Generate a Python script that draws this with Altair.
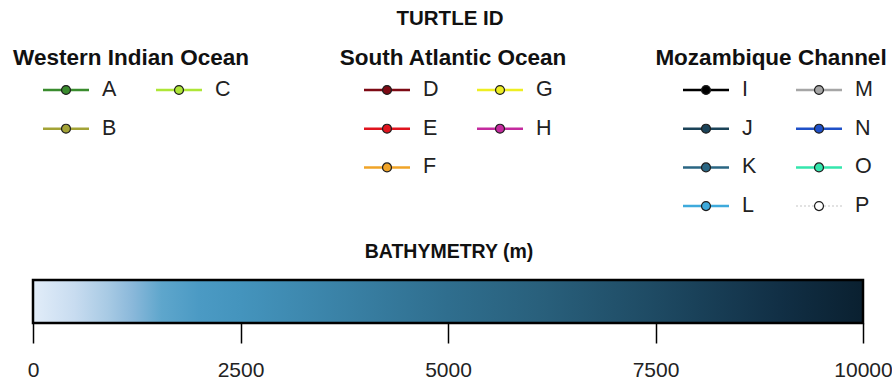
import altair as alt
import pandas as pd

# ---- legend content -------------------------------------------------------
groups = ["Western Indian Ocean", "South Atlantic Ocean", "Mozambique Channel"]
group_ids = [
    ["A", "B", "C"],
    ["D", "E", "F", "G", "H"],
    ["I", "J", "K", "L", "M", "N", "O", "P"],
]
id_colors = {
    "A": "#3a8c2e", "B": "#a3a336", "C": "#aee637",
    "D": "#7d0a14", "E": "#e0141e", "F": "#f0a428", "G": "#eeee22", "H": "#c42a9e",
    "I": "#000000", "J": "#1b4358", "K": "#2a6683", "L": "#3eaadc",
    "M": "#a6a6a6", "N": "#1f50c8", "O": "#34e6ad", "P": "#ffffff",
}
dotted_ids = ["P"]

main_title = "TURTLE ID"
bar_title = "BATHYMETRY (m)"

# colour ramp of the depth bar
depth_stops = [0, 500, 900, 1200, 1550, 2000, 2500, 5000, 6100, 7500, 9000, 10000]
depth_colors = ["#e2edf9", "#c8dcf0", "#a8cae4", "#8ab8da", "#5ea6cc", "#4b9ac4",
                "#4494bd", "#2f6e8e", "#29607c", "#1e4a63", "#112f45", "#0a2030"]
depth_ticks = [0, 2500, 5000, 7500, 10000]
depth_domain = [0, 10000]

# ---- layout (pixels) ------------------------------------------------------
W, H, PAD_BOTTOM = 892, 323, 60
group_first_x = [66, 387, 706]
group_title_x = [131, 453, 771]
col_gap = 113
row_y0, row_gap = 90, 38.7
half_line = 23
label_gap = 36

entries = []
for g, ids in enumerate(group_ids):
    nrow = (len(ids) + 1) // 2
    for i, tid in enumerate(ids):
        col, row = divmod(i, nrow)
        px = group_first_x[g] + col * col_gap
        py = row_y0 + row * row_gap
        entries.append({
            "id": tid, "group": groups[g], "color": id_colors[tid],
            "px": px, "x0": px - half_line, "x1": px + half_line,
            "lx": px + label_gap, "py": py,
            "style": "dotted" if tid in dotted_ids else "solid",
        })
entries = pd.DataFrame(entries)

titles = pd.DataFrame(
    [{"text": main_title, "tx": 450, "ty": 19, "size": 20.5}]
    + [{"text": g, "tx": x, "ty": 58, "size": 22.5} for g, x in zip(groups, group_title_x)]
    + [{"text": bar_title, "tx": 449, "ty": 252, "size": 19.5}]
)

px_x = alt.Scale(domain=[0, W], range=[0, W], nice=False, zero=False)
px_y = alt.Scale(domain=[0, H], range=[0, H], nice=False, zero=False)
X = lambda f: alt.X(f"{f}:Q", scale=px_x, axis=None)
Y = lambda f: alt.Y(f"{f}:Q", scale=px_y, axis=None)

base = alt.Chart(entries)

lines = base.transform_filter(alt.datum.style == "solid").mark_rule(strokeWidth=2.5).encode(
    x=X("x0"), x2="x1", y=Y("py"), color=alt.Color("color:N", scale=None)
)
dotted = base.transform_filter(alt.datum.style == "dotted").mark_rule(
    strokeWidth=2, strokeDash=[2, 2], color="#e2e2e2"
).encode(x=X("x0"), x2="x1", y=Y("py"))
points = base.mark_point(
    shape="circle", filled=True, size=80, stroke="#1e1e1e", strokeWidth=1.2, opacity=1
).encode(x=X("px"), y=Y("py"), fill=alt.Fill("color:N", scale=None))
labels = base.mark_text(
    align="left", baseline="middle", fontSize=21.5, font="Liberation Sans", color="#222222"
).encode(x=X("lx"), y=Y("py"), text="id:N")

heads = alt.Chart(titles).mark_text(
    align="center", baseline="middle", font="Liberation Sans", fontWeight="bold", color="#111111"
).encode(x=X("tx"), y=Y("ty"), text="text:N", size=alt.Size("size:Q", scale=None))

# ---- depth colour bar -----------------------------------------------------
bar_df = pd.DataFrame({"d0": [depth_domain[0]], "d1": [depth_domain[1]]})
gradient = alt.Gradient(
    gradient="linear", x1=0, x2=1, y1=0, y2=0,
    stops=[alt.GradientStop(offset=d / depth_domain[1], color=c)
           for d, c in zip(depth_stops, depth_colors)],
)
bar = alt.Chart(bar_df).mark_rect(
    color=gradient, stroke="#000000", strokeWidth=2.5
).encode(
    x=alt.X(
        "d0:Q",
        scale=alt.Scale(domain=depth_domain, range=[33, 863], nice=False, zero=False),
        axis=alt.Axis(
            orient="bottom", values=depth_ticks, title=None, domain=False, grid=False,
            format="d", tickSize=20, tickColor="#000000", tickWidth=1.5,
            labelFontSize=21, labelFont="Liberation Sans", labelColor="#222222",
            labelPadding=16, labelFlush=False, labelOverlap=False,
        ),
    ),
    x2="d1:Q",
    y=alt.value(280),
    y2=alt.value(323),
)

chart = (
    alt.layer(lines, dotted, points, labels, heads, bar)
    .resolve_scale(x="independent")
    .properties(
        width=W, height=H,
        autosize=alt.AutoSizeParams(type="none"),
        padding={"left": 0, "right": 0, "top": 0, "bottom": PAD_BOTTOM},
        background="white",
    )
    .configure_view(stroke=None)
)

chart.save("out.html", embed_options={"renderer": "svg", "actions": False})
